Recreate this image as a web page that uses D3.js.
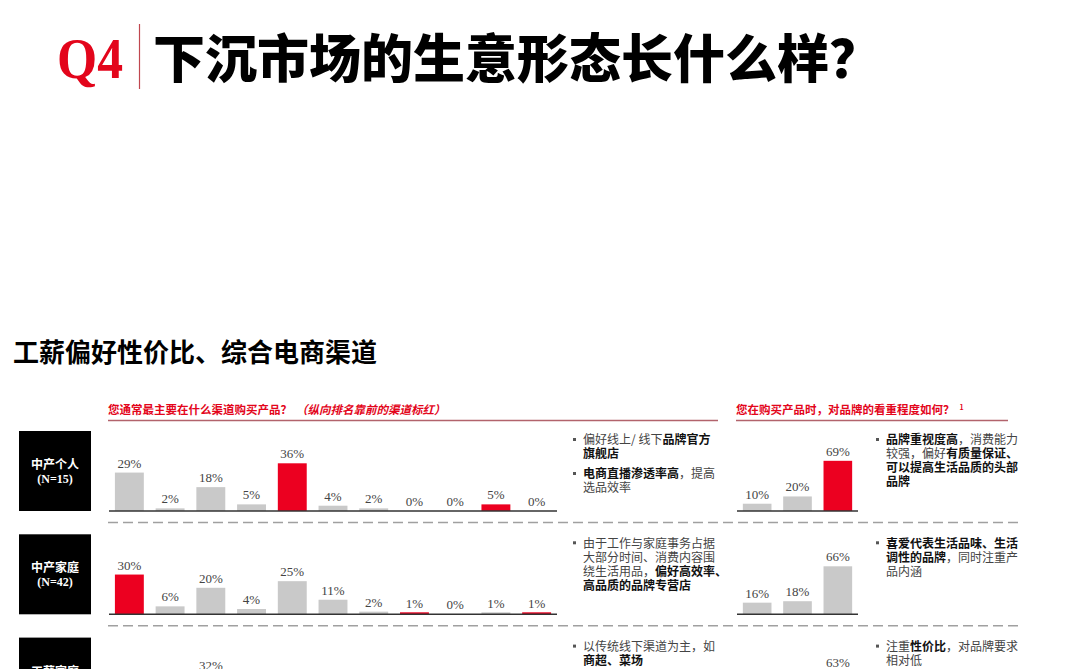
<!DOCTYPE html>
<html><head><meta charset="utf-8">
<script src="https://cdn.jsdelivr.net/npm/d3@7"></script>
<style>
html,body{margin:0;padding:0;background:#fff;overflow:hidden;}
svg{display:block;}
</style></head>
<body>
<script>
// ---------- data ----------
const titleTag = "Q4";
const titleText = "下沉市场的生意形态长什么样？";
const subtitleText = "工薪偏好性价比、综合电商渠道";
const channelQuestion = "您通常最主要在什么渠道购买产品？";
const channelNote = "（纵向排名靠前的渠道标红）";
const brandQuestion = "您在购买产品时，对品牌的看重程度如何？";
const segments = ["中产个人", "中产家庭", "工薪家庭"];
const segmentN = ["(N=15)", "(N=42)", null];
const channelCategories = ["渠道1","渠道2","渠道3","渠道4","渠道5","渠道6","渠道7","渠道8","渠道9","渠道10","渠道11"];
// values below the visible area of row 3 cannot be read -> null
const channelValues = [
  [29, 2, 18, 5, 36, 4, 2, 0, 0, 5, 0],
  [30, 6, 20, 4, 25, 11, 2, 1, 0, 1, 1],
  [null, null, 32, null, null, null, null, null, null, null, null]
];
const channelHighlight = [[4, 9], [0, 7, 10], []];
const brandCategories = ["低", "中", "高"];
const brandValues = [
  [10, 20, 69],
  [16, 18, 66],
  [null, null, 63]
];
const brandHighlight = [[2], [], []];
const channelNotes = [
  [
    [[["偏好线上/ 线下", 0], ["品牌官方", 1]], [["旗舰店", 1]]],
    [[["电商直播渗透率高", 1], ["，提高", 0]], [["选品效率", 0]]]
  ],
  [
    [[["由于工作与家庭事务占据", 0]], [["大部分时间、消费内容围", 0]], [["绕生活用品，", 0], ["偏好高效率、", 1]], [["高品质的品牌专营店", 1]]]
  ],
  [
    [[["以传统线下渠道为主，如", 0]], [["商超、菜场", 1]]]
  ]
];
const brandNotes = [
  [
    [[["品牌重视度高", 1], ["，消费能力", 0]], [["较强，偏好", 0], ["有质量保证、", 1]], [["可以提高生活品质的头部", 1]], [["品牌", 1]]]
  ],
  [
    [[["喜爱代表生活品味、生活", 1]], [["调性的品牌", 1], ["，同时注重产", 0]], [["品内涵", 0]]]
  ],
  [
    [[["注重", 0], ["性价比", 1], ["，对品牌要求", 0]], [["相对低", 0]]]
  ]
];

// ---------- drawing ----------
const W = 1080, H = 669;
const RED = "#ec0020", GREY = "#c9c9c9";
const CJK = "'Noto Sans CJK SC','Noto Sans',sans-serif";
const SERIF = "'Liberation Serif','Times New Roman',serif";

const svg = d3.select("body").append("svg").attr("width", W).attr("height", H);
svg.append("rect").attr("width", W).attr("height", H).attr("fill", "#fff");

// title
svg.append("text").attr("x", 57).attr("y", 78)
  .attr("font-family", SERIF).attr("font-weight", "bold").attr("font-size", 56)
  .attr("fill", "#e3051b").attr("textLength", 66).attr("lengthAdjust", "spacingAndGlyphs")
  .text(titleTag);
svg.append("line").attr("x1", 139.5).attr("x2", 139.5).attr("y1", 24).attr("y2", 89)
  .attr("stroke", "#c0474f").attr("stroke-width", 1.2);
svg.append("text").attr("x", 153).attr("y", 78)
  .attr("font-family", CJK).attr("font-weight", 900).attr("font-size", 52)
  .attr("fill", "#000").text(titleText);

// subtitle
svg.append("text").attr("x", 13).attr("y", 362)
  .attr("font-family", CJK).attr("font-weight", "bold").attr("font-size", 26)
  .attr("fill", "#000").text(subtitleText);

// headers
const h1 = svg.append("text").attr("x", 108).attr("y", 414)
  .attr("font-family", CJK).attr("font-weight", "bold").attr("font-size", 11.5).attr("fill", "#e3051b");
h1.append("tspan").text(channelQuestion);
h1.append("tspan").attr("font-style", "italic").attr("dx", 4).text(channelNote);
svg.append("line").attr("x1", 108).attr("x2", 718).attr("y1", 420.5).attr("y2", 420.5)
  .attr("stroke", "#b2636c").attr("stroke-width", 1.6);
const h2 = svg.append("text").attr("x", 736).attr("y", 414)
  .attr("font-family", CJK).attr("font-weight", "bold").attr("font-size", 11.5).attr("fill", "#e3051b");
h2.append("tspan").text(brandQuestion);
h2.append("tspan").attr("font-size", 7).attr("dy", -4).attr("dx", 5).text("1");
svg.append("line").attr("x1", 736).attr("x2", 1008).attr("y1", 420.5).attr("y2", 420.5)
  .attr("stroke", "#b2636c").attr("stroke-width", 1.6);

// scales
const xCh = d3.scaleBand().domain(channelCategories).range([109, 557]).paddingInner(0.29).paddingOuter(0.145);
const yCh = d3.scaleLinear().domain([0, 60]).range([0, 79.5]);
const xBr = d3.scaleBand().domain(brandCategories).range([737, 858]).paddingInner(0.29).paddingOuter(0.145);
const yBr = d3.scaleLinear().domain([0, 110]).range([0, 80]);

const ROW = 103.3;

function drawBars(g, xs, ys, cats, vals, hi, base) {
  const data = cats.map((c, i) => ({c, v: vals[i], i})).filter(d => d.v !== null);
  g.selectAll(null).data(data).enter().append("rect")
    .attr("x", d => xs(d.c)).attr("width", xs.bandwidth())
    .attr("y", d => base - Math.max(ys(d.v), d.v > 0 ? 2 : 0)).attr("height", d => Math.max(ys(d.v), d.v > 0 ? 2 : 0))
    .attr("fill", d => hi.includes(d.i) ? RED : GREY);
  g.selectAll(null).data(data).enter().append("text")
    .attr("x", d => xs(d.c) + xs.bandwidth() / 2).attr("y", d => base - ys(d.v) - 5)
    .attr("text-anchor", "middle").attr("font-family", SERIF).attr("font-size", 13)
    .attr("fill", "#444").text(d => d.v + "%");
  const axis = d3.axisBottom(xs).tickSize(0).tickFormat("");
  const ag = g.append("g").attr("transform", `translate(0,${base})`).call(axis);
  ag.select(".domain").attr("stroke", "#333").attr("stroke-width", 1.6)
    .attr("d", `M${xs.range()[0]},0H${xs.range()[1]}`);
}

function drawNotes(g, notes, xBullet, xText, yStart) {
  let y = yStart;
  notes.forEach(par => {
    g.append("rect").attr("x", xBullet).attr("y", y - 2).attr("width", 3).attr("height", 3).attr("fill", "#555");
    par.forEach(line => {
      const t = g.append("text").attr("x", xText).attr("y", y + 4.3)
        .attr("font-family", CJK).attr("font-size", 12).attr("fill", "#444");
      line.forEach(([s, b]) => t.append("tspan")
        .attr("font-weight", b ? "bold" : "normal").attr("fill", b ? "#111" : "#444").text(s));
      y += 14;
    });
    y += 6;
  });
}

segments.forEach((seg, r) => {
  const g = svg.append("g");
  const base = 511 + ROW * r;
  const boxTop = 431 + ROW * r;
  g.append("rect").attr("x", 19).attr("y", boxTop).attr("width", 72).attr("height", 80).attr("fill", "#000");
  g.append("text").attr("x", 55).attr("y", boxTop + 38).attr("text-anchor", "middle")
    .attr("font-family", CJK).attr("font-weight", "bold").attr("font-size", 12).attr("fill", "#fff").text(seg);
  if (segmentN[r]) g.append("text").attr("x", 55).attr("y", boxTop + 52).attr("text-anchor", "middle")
    .attr("font-family", SERIF).attr("font-weight", "bold").attr("font-size", 12).attr("fill", "#fff").text(segmentN[r]);

  drawBars(g, xCh, yCh, channelCategories, channelValues[r], channelHighlight[r], base);
  drawBars(g, xBr, yBr, brandCategories, brandValues[r], brandHighlight[r], base);
  drawNotes(g, channelNotes[r], 573, 583, 440 + ROW * r);
  drawNotes(g, brandNotes[r], 876, 886, 440 + ROW * r);

  if (r < 2) {
    g.append("line").attr("x1", 108).attr("x2", 1022).attr("y1", base + 11.5).attr("y2", base + 11.5)
      .attr("stroke", "#a0a0a0").attr("stroke-width", 1.4).attr("stroke-dasharray", "10,5");
  }
});
</script>
</body></html>
